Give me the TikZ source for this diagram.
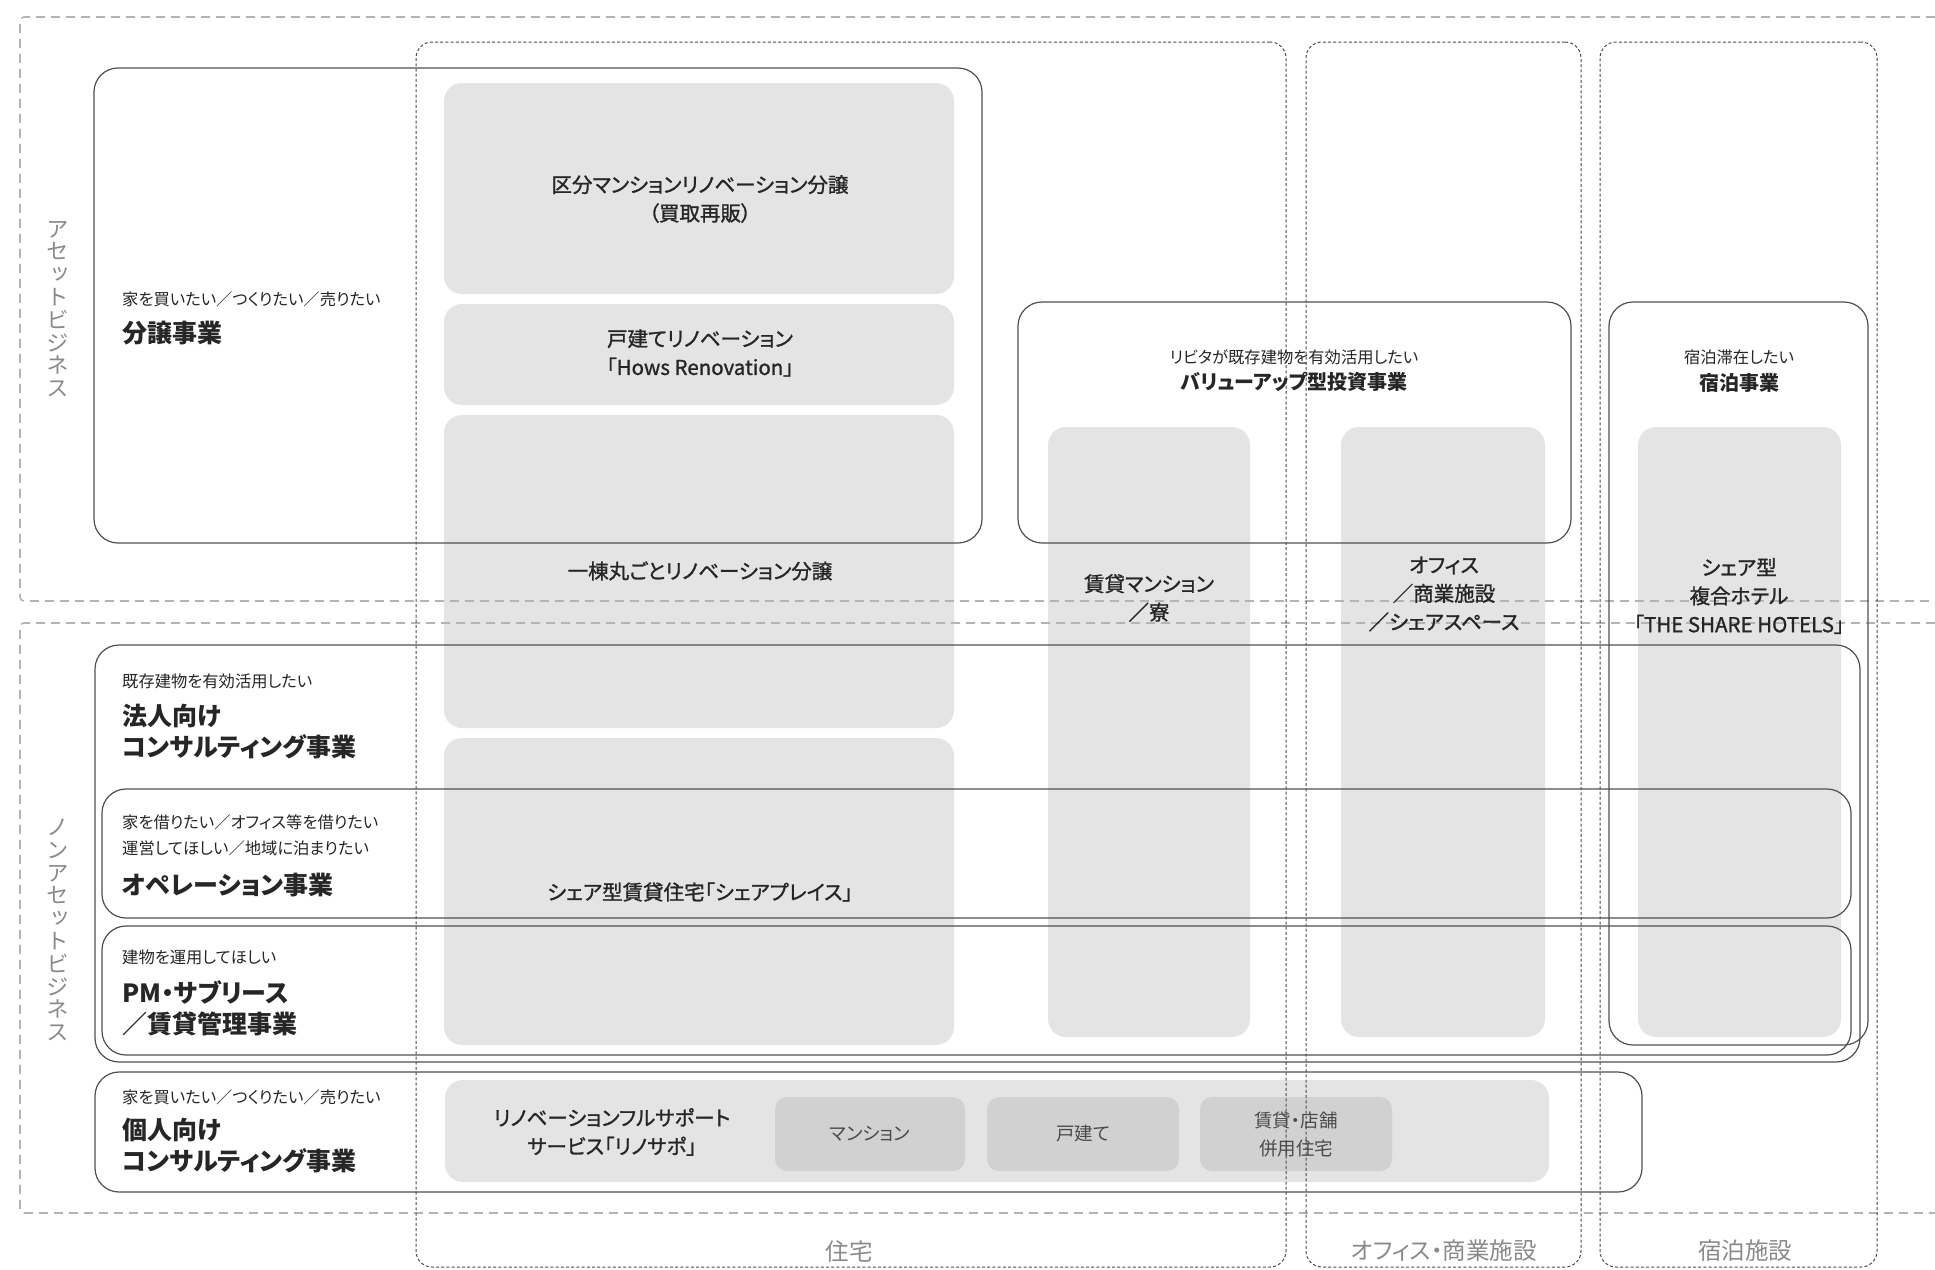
\documentclass[tikz,border=0pt]{standalone}
\usepackage{fontspec}
\setmainfont{Noto Sans CJK JP}[RawFeature=+palt]
\newfontfamily\medfont{Noto Sans CJK JP}[RawFeature=+palt,FakeBold=1.2]
\newfontfamily\vfont{Noto Sans CJK JP}[RawFeature=+vert]
\definecolor{gfill}{HTML}{E4E4E4}
\definecolor{sfill}{HTML}{D1D1D1}
\definecolor{bizline}{HTML}{505050}
\definecolor{colline}{HTML}{4A4A4A}
\definecolor{outerline}{HTML}{B4B4B4}
\definecolor{labgray}{HTML}{8A8A8A}
\definecolor{txt}{HTML}{262626}
\definecolor{subtxt}{HTML}{4A4A4A}
\newcommand\mkbox[6]{\node[#1, minimum width={#5-#3}, minimum height={#6-#4}] (#2) at ({(#3+#5)/2},{(#4+#6)/2}) {};}
\begin{document}
\begin{tikzpicture}[x=1pt,y=-1pt,
  gbox/.style={fill=gfill, rounded corners=18pt, inner sep=0pt, outer sep=0pt},
  sbox/.style={fill=sfill, rounded corners=12pt, inner sep=0pt, outer sep=0pt},
  biz/.style={draw=bizline, line width=1.2pt, rounded corners=24pt, inner sep=0pt, outer sep=0pt},
  colbox/.style={draw=colline, line width=1pt, dash pattern=on 3pt off 2.2pt, rounded corners=16pt, inner sep=0pt, outer sep=0pt},
  outer/.style={draw=outerline, line width=1.6pt, dash pattern=on 9pt off 6pt, rounded corners=4pt},
  boxtext/.style={font=\medfont\fontsize{20.5}{28.5}\selectfont, align=center, text=txt, inner sep=0pt},
  subtext/.style={font=\fontsize{18.5}{28}\selectfont, align=center, text=subtxt, inner sep=0pt},
  smalltext/.style={font=\fontsize{16.3}{26}\selectfont, align=left, text=txt, inner sep=0pt, anchor=west},
  headtext/.style={font=\bfseries\fontsize{25}{31}\selectfont, align=left, text=txt, inner sep=0pt, anchor=west},
  smallc/.style={font=\fontsize{16.3}{26}\selectfont, align=center, text=txt, inner sep=0pt},
  headc/.style={font=\bfseries\fontsize{20}{26}\selectfont, align=center, text=txt, inner sep=0pt},
  collabel/.style={font=\fontsize{23.5}{26}\selectfont, text=labgray, inner sep=0pt},
  vlabel/.style={font=\vfont\fontsize{22.5}{22.8}\selectfont, align=center, text=labgray, inner sep=0pt}
]
\fill[white] (0,0) rectangle (1935,1269);
\useasboundingbox (0,0) rectangle (1935,1269);

% grey fills
\mkbox{gbox}{kubun}{444}{83}{954}{294}
\mkbox{gbox}{kodate}{444}{304}{954}{405}
\mkbox{gbox}{ittou}{444}{415}{954}{728}
\mkbox{gbox}{share}{444}{738}{954}{1045}
\mkbox{gbox}{chintai}{1048}{427}{1250}{1037}
\mkbox{gbox}{office}{1341}{427}{1545}{1037}
\mkbox{gbox}{hotel}{1638}{427}{1841}{1037}
\mkbox{gbox}{rinosapo}{445}{1080}{1549}{1182}
\mkbox{sbox}{smansion}{775}{1097}{965}{1171}
\mkbox{sbox}{skodate}{987}{1097}{1179}{1171}
\mkbox{sbox}{stenpo}{1200}{1097}{1392}{1171}

% outer dashed areas
\draw[outer] (1935,17) -- (20,17) -- (20,601) -- (1935,601);
\draw[outer] (1935,623) -- (20,623) -- (20,1213) -- (1935,1213);

% column dashed boxes
\mkbox{colbox}{colhouse}{416}{42}{1286}{1267}
\mkbox{colbox}{coloffice}{1306}{42}{1581}{1267}
\mkbox{colbox}{colhotel}{1600}{42}{1877}{1267}

% business boxes
\mkbox{biz}{bunjo}{94}{68}{982}{543}
\mkbox{biz}{valueup}{1018}{302}{1571}{543}
\mkbox{biz}{hotelbiz}{1609}{302}{1868}{1045}
\mkbox{biz}{houjin}{95}{645}{1860}{1062}
\mkbox{biz}{opera}{102}{789}{1851}{918}
\mkbox{biz}{pm}{102}{926}{1851}{1055}
\mkbox{biz}{kojin}{95}{1072}{1642}{1192}

% vertical labels
\node[vlabel] (lasset) at (58,309) {ア\\セ\\ッ\\ト\\ビ\\ジ\\ネ\\ス};
\node[vlabel] (lnonasset) at (58,930) {ノ\\ン\\ア\\セ\\ッ\\ト\\ビ\\ジ\\ネ\\ス};

% column labels
\node[collabel] (lhouse) at (849,1251) {住宅};
\node[collabel] (loffice) at (1444,1251) {オフィス・商業施設};
\node[collabel] (lhotel) at (1745,1251) {宿泊施設};

% left business texts
\node[smalltext] (sbunjo) at (122,299) {家を買いたい／つくりたい／売りたい};
\node[headtext] (hbunjo) at (122,333) {分譲事業};
\node[smalltext] (shoujin) at (122,681) {既存建物を有効活用したい};
\node[headtext] (hhoujin) at (122,732) {法人向け\\コンサルティング事業};
\node[smalltext] (sopera) at (122,835) {家を借りたい／オフィス等を借りたい\\運営してほしい／地域に泊まりたい};
\node[headtext] (hopera) at (122,885) {オペレーション事業};
\node[smalltext] (spm) at (122,957) {建物を運用してほしい};
\node[headtext] (hpm) at (122,1008) {PM・サブリース\\／賃貸管理事業};
\node[smalltext] (skojin) at (122,1097) {家を買いたい／つくりたい／売りたい};
\node[headtext] (hkojin) at (122,1146) {個人向け\\コンサルティング事業};

% upper right business texts
\node[smallc] (svalueup) at (1294,357) {リビタが既存建物を有効活用したい};
\node[headc] (hvalueup) at (1294,382) {バリューアップ型投資事業};
\node[smallc] (shotel) at (1739,357) {宿泊滞在したい};
\node[headc] (hhotel) at (1739,383) {宿泊事業};

% grey box texts
\node[boxtext] (tkubun) at (700,199) {区分マンションリノベーション分譲\\（買取再販）};
\node[boxtext] (tkodate) at (700,353) {戸建てリノベーション\\「Hows Renovation」};
\node[boxtext] (tittou) at (700,571) {一棟丸ごとリノベーション分譲};
\node[boxtext] (tshare) at (700,892) {シェア型賃貸住宅「シェアプレイス」};
\node[boxtext] (tchintai) at (1149,598) {賃貸マンション\\／寮};
\node[boxtext] (toffice) at (1444,594) {オフィス\\／商業施設\\／シェアスペース};
\node[boxtext] (thotel) at (1739,596) {シェア型\\複合ホテル\\「THE SHARE HOTELS」};
\node[boxtext] (trinosapo) at (612,1132) {リノベーションフルサポート\\サービス「リノサポ」};
\node[subtext] (tsmansion) at (870,1134) {マンション};
\node[subtext] (tskodate) at (1083,1134) {戸建て};
\node[subtext] (tstenpo) at (1296,1134) {賃貸・店舗\\併用住宅};
\end{tikzpicture}
\end{document}
